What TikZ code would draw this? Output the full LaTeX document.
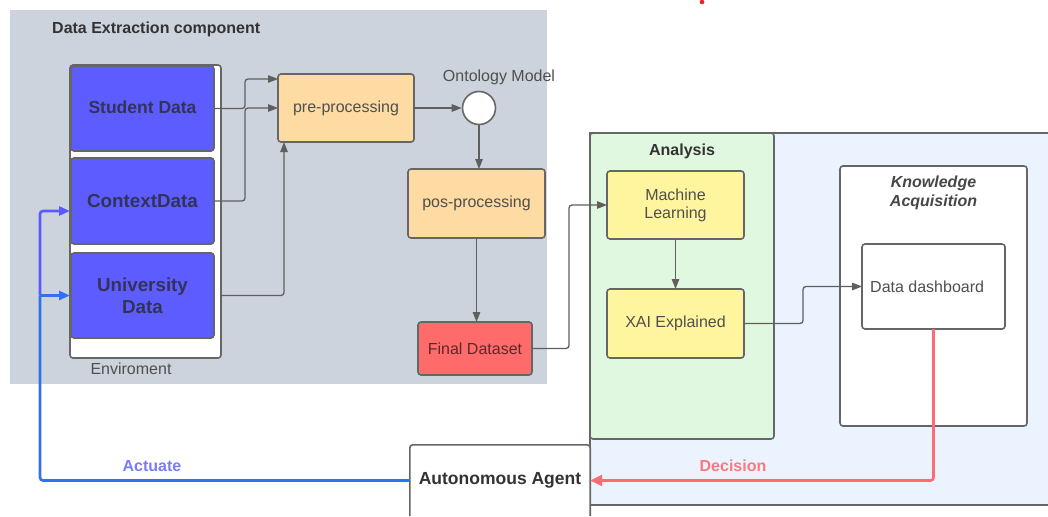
\documentclass[tikz,border=0pt]{standalone}
\usepackage{fontspec}
\setmainfont{Liberation Sans}
\usetikzlibrary{arrows.meta}

\definecolor{bgGray}{HTML}{CDD3DC}
\definecolor{boxLine}{HTML}{666666}
\definecolor{dataBlue}{HTML}{5C5CFF}
\definecolor{dataText}{HTML}{33335A}
\definecolor{peach}{HTML}{FDDBA3}
\definecolor{finalRed}{HTML}{FF6B6B}
\definecolor{greenPane}{HTML}{E1F8E0}
\definecolor{bluePane}{HTML}{EBF3FE}
\definecolor{mlYellow}{HTML}{FFF59F}
\definecolor{flowGray}{HTML}{5F5F5F}
\definecolor{decisionRed}{HTML}{FF6B72}
\definecolor{decisionText}{HTML}{F87A80}
\definecolor{actViolet}{HTML}{5A5AFF}
\definecolor{actBlue}{HTML}{2F72EE}
\definecolor{actText}{HTML}{7A7AFF}
\definecolor{txtDark}{HTML}{333333}
\definecolor{txtMid}{HTML}{4F4F4F}
\definecolor{markRed}{HTML}{EE2020}

\tikzset{
  x=1pt, y=-1pt,
  basebox/.style={draw=boxLine, line width=1.6pt, rounded corners=3pt,
    inner sep=0pt, outer sep=0pt, align=center},
  databox/.style={basebox, fill=dataBlue, text=dataText,
    font=\fontsize{18.8}{22}\selectfont\bfseries},
  peachbox/.style={basebox, fill=peach, text=txtMid, font=\fontsize{16}{19}\selectfont},
  yellowbox/.style={basebox, fill=mlYellow, text=txtMid, font=\fontsize{16}{19}\selectfont},
  whitebox/.style={basebox, fill=white},
  plainlabel/.style={inner sep=0pt, font=\fontsize{16}{19}\selectfont},
  flow/.style={draw=flowGray, line width=1.3pt, rounded corners=3pt,
    -{Triangle[length=10pt,width=7.5pt]}},
  actline/.style={line width=2.6pt, rounded corners=3pt},
}

\begin{document}
\begin{tikzpicture}
\useasboundingbox (0,0) rectangle (1048,516);

% small red mark at the top edge
\fill[markRed] (702,2) circle (2.3);

% data extraction area
\fill[bgGray] (10,10) rectangle (547,384);
\node[plainlabel, anchor=west, text=txtDark, font=\fontsize{16}{18}\selectfont\bfseries]
  (detitle) at (52,29) {Data Extraction component};

% environment container and its data sources
\node[whitebox, minimum width=151, minimum height=293] (env) at (145.5,211.5) {};
\node[databox, minimum width=143, minimum height=85] (student) at (142.5,108.5)
  {\fontsize{17.5}{21}\selectfont Student Data\vphantom{p}};
\node[databox, minimum width=143, minimum height=86] (context) at (142.5,201) {ContextData};
\node[databox, minimum width=143, minimum height=85] (univ) at (142.5,295.5) {University\\Data};
\node[plainlabel, text=txtMid] (envlabel) at (131,369) {Enviroment};

% processing chain
\node[peachbox, minimum width=136, minimum height=68] (pre) at (346,108) {pre-processing};
\node[draw=boxLine, line width=1.6pt, fill=white, circle, minimum size=33, inner sep=0pt] (circ) at (479,108) {};
\node[plainlabel, text=txtMid] (ontolabel) at (499,77) {Ontology Model};
\node[peachbox, minimum width=137, minimum height=69] (pos) at (476.5,203.5) {pos-processing};
\node[basebox, fill=finalRed, text=txtDark!80!red, minimum width=114, minimum height=53,
  font=\fontsize{16}{19}\selectfont] (final) at (475,348.5) {Final Dataset};

% analysis / knowledge pane
\fill[bluePane] (590,133) rectangle (1048,505);
\draw[boxLine, line width=1.6pt] (1048,133) -- (590,133) -- (590,505) -- (1048,505);
\node[basebox, fill=greenPane, minimum width=184, minimum height=306] (analysis) at (682,286) {};
\node[plainlabel, text=txtDark, font=\fontsize{16}{19}\selectfont\bfseries] (antitle) at (682,151) {Analysis};
\node[yellowbox, minimum width=137, minimum height=68] (ml) at (675.5,205) {Machine\\[-1pt]Learning};
\node[yellowbox, minimum width=137, minimum height=69] (xai) at (675.5,323.5) {XAI Explained};

\node[whitebox, minimum width=187, minimum height=260] (ka) at (933.5,296) {};
\node[plainlabel, text=txtDark!90, align=center, font=\fontsize{16}{19}\selectfont\bfseries\itshape]
  (katitle) at (933.5,192.5) {Knowledge\\Acquisition};
\node[whitebox, minimum width=143, minimum height=85] (dd) at (933.5,286.5) {};
\node[plainlabel, anchor=west, text=txtMid] (ddlabel) at (870,287) {Data dashboard};

% autonomous agent (box runs past the bottom edge)
\node[fill=white, minimum width=180, minimum height=71, inner sep=0pt,
  text=txtDark, font=\fontsize{17.5}{21}\selectfont\bfseries] (agent) at (500,480.5) {Autonomous Agent};
\draw[boxLine, line width=1.6pt, rounded corners=3pt]
  (agent.south west) -- (agent.north west) -- (agent.north east) -- (agent.south east);

% data flow connectors
\draw[flow] (student.east) -- ++(31,0) |- ([yshift=29pt]pre.west);
\draw[flow] (context.east) -- ++(31,0) |- (pre.west);
\draw[flow] (env.east |- univ.east) -| ([xshift=-62pt]pre.south);
\draw[flow] (pre.east) -- (circ.west);
\draw[flow] (circ.south) -- (circ.south |- pos.north);
\draw[flow] (pos.south) -- (pos.south |- final.north);
\draw[flow] (final.east) -- ++(37,0) |- (ml.west);
\draw[flow] (ml.south) -- (ml.south |- xai.north);
\draw[flow] (xai.east) -- ++(59,0) |- (dd.west);

% decision and actuation loop
\draw[actline, decisionRed, -{Triangle[length=12pt,width=11pt]}] (dd.south) |- (agent.east);
\node[plainlabel, text=decisionText, font=\fontsize{16}{19}\selectfont\bfseries] (declabel) at (733,466) {Decision};

\coordinate (bend) at (40,480.5);
\draw[actline, actBlue] (agent.west) -- (bend) -- (bend |- univ.west);
\draw[actline, actViolet, -{Triangle[length=11pt,width=9pt]}]
  (bend |- univ.west) -- (bend |- 0,211) -- (env.west |- 0,211);
\draw[actline, actBlue, -{Triangle[length=11pt,width=9pt]}]
  (bend |- univ.west) -- (env.west |- univ.west);
\node[plainlabel, text=actText, font=\fontsize{16}{19}\selectfont\bfseries] (actlabel) at (152,466) {Actuate};
\end{tikzpicture}
\end{document}
